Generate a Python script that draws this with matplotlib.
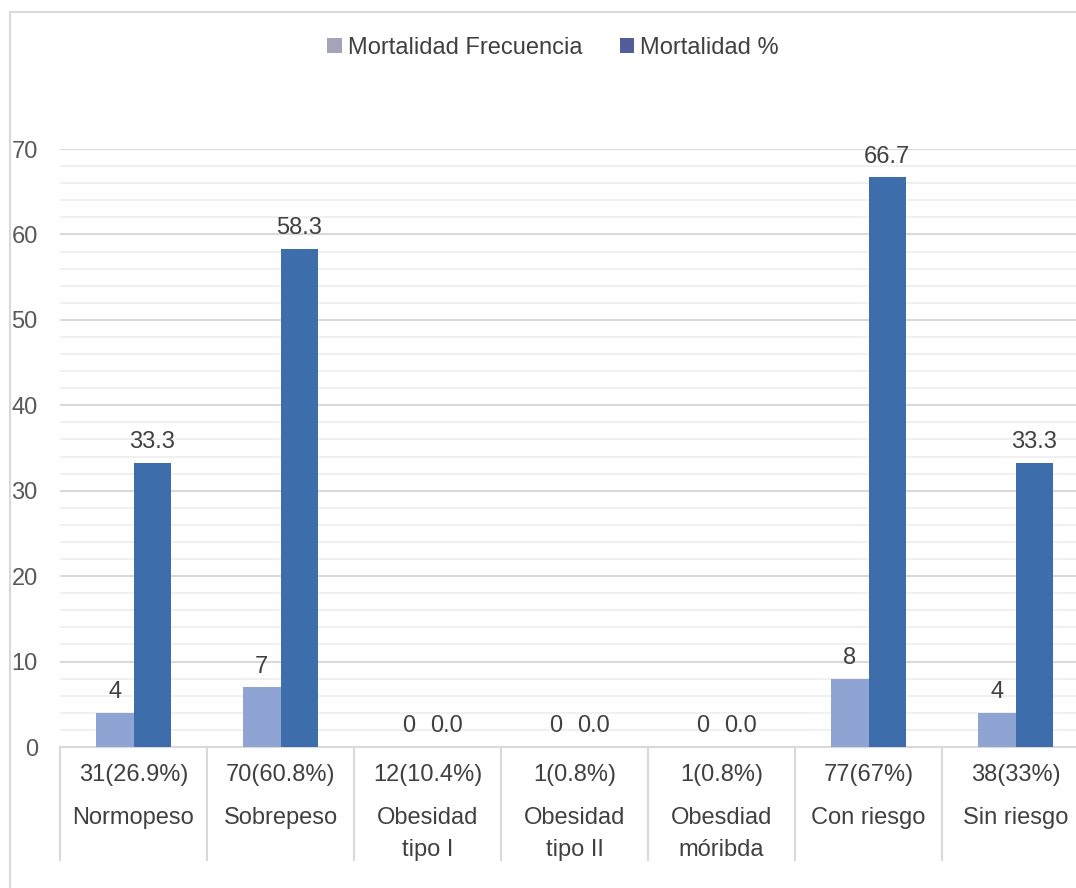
import matplotlib
matplotlib.use("Agg")
import matplotlib.pyplot as plt
from matplotlib.patches import Rectangle, Patch
from matplotlib.ticker import MultipleLocator
import matplotlib.transforms as mtransforms

plt.rcParams["font.family"] = ["Liberation Sans", "DejaVu Sans"]

# Data
groups = ["Normopeso", "Sobrepeso", "Obesidad\ntipo I", "Obesidad\ntipo II",
          "Obesdiad\nmóribda", "Con riesgo", "Sin riesgo"]
group_counts = ["31(26.9%)", "70(60.8%)", "12(10.4%)", "1(0.8%)", "1(0.8%)",
                "77(67%)", "38(33%)"]
mort_freq = [4, 7, 0, 0, 0, 8, 4]
mort_pct = [33.3, 58.3, 0.0, 0.0, 0.0, 66.7, 33.3]
series_names = ["Mortalidad Frecuencia", "Mortalidad %"]

W, H = 1076, 888
fig = plt.figure(figsize=(W / 100, H / 100), dpi=100)
fig.patch.set_facecolor("white")

# Outer chart frame
fig.patches.append(Rectangle((10 / W, -0.1), 1.2, 1 - 12 / H + 0.1,
                             transform=fig.transFigure, fill=False,
                             edgecolor="#D9D9D9", lw=1.5))

ax = fig.add_axes([60 / W, (H - 747) / H, 1029 / W, 598 / H])

light = "#8FA4D3"
dark = "#3E6DAB"
text_col = "#404040"
fs = 17

x = list(range(len(groups)))
bw = 0.255
xl = [i - bw / 2 for i in x]
xd = [i + bw / 2 for i in x]
ax.bar(xl, mort_freq, width=bw, color=light, zorder=3)
ax.bar(xd, mort_pct, width=bw, color=dark, zorder=3)

# Value labels
for xi, v in zip(xl, mort_freq):
    ax.annotate(f"{v:d}", (xi, v), xytext=(0, 10.5), textcoords="offset points",
                ha="center", va="baseline", fontsize=fs, color=text_col)
for xi, v in zip(xd, mort_pct):
    ax.annotate(f"{v:.1f}", (xi, v), xytext=(0, 10.5), textcoords="offset points",
                ha="center", va="baseline", fontsize=fs, color=text_col)

ax.set_xlim(-0.5, len(groups) - 0.5)
ax.set_ylim(0, 70)
ax.yaxis.set_major_locator(MultipleLocator(10))
ax.yaxis.set_minor_locator(MultipleLocator(2))
ax.grid(axis="y", which="major", color="#D9D9D9", lw=1.5, zorder=0)
ax.grid(axis="y", which="minor", color="#EFEFEF", lw=1.3, zorder=0)
ax.tick_params(axis="y", which="both", length=0, labelsize=fs,
               labelcolor="#595959", pad=16)
ax.tick_params(axis="x", length=0, labelbottom=False)
for s in ["top", "right", "left"]:
    ax.spines[s].set_visible(False)
ax.spines["bottom"].set_color("#D9D9D9")
ax.spines["bottom"].set_linewidth(1.5)
ax.set_xticks([])

# Category labels and separators below the axis
trans = mtransforms.blended_transform_factory(ax.transData, ax.transAxes)
for k in range(len(groups) + 1):
    ax.plot([k - 0.5, k - 0.5], [0, -113 / 598], transform=trans,
            color="#D9D9D9", lw=1.5, clip_on=False)
for i, (c, g) in enumerate(zip(group_counts, groups)):
    ax.text(i, -28 / 598, c, transform=trans, ha="center", va="center",
            fontsize=fs, color=text_col)
    for j, line in enumerate(g.split("\n")):
        ax.text(i, -(71 + 32 * j) / 598, line, transform=trans, ha="center",
                va="center", fontsize=fs, color=text_col)

# Legend
handles = [Patch(facecolor="#A3A4B8", edgecolor="none"),
           Patch(facecolor="#525D99", edgecolor="none")]
fig.legend(handles, series_names, loc="center", ncol=2, frameon=False,
           bbox_to_anchor=(553 / W, 1 - 48 / H), fontsize=fs,
           labelcolor=text_col, handlelength=0.6, handleheight=0.6,
           handletextpad=0.25, columnspacing=1.6)

fig.savefig("out.png", dpi=100)
